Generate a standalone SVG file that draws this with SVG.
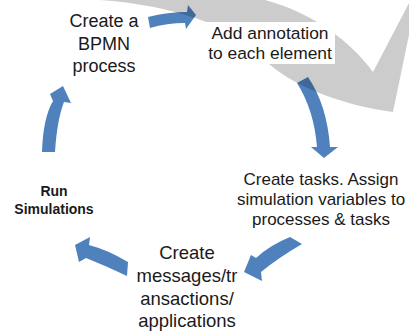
<svg xmlns="http://www.w3.org/2000/svg" width="409" height="333" viewBox="0 0 409 333">
<style>
.lbl{font-family:"Liberation Sans",Arial,sans-serif;fill:#1a1a1a;text-anchor:middle}
.arrow{fill:#4f81bd}
</style>
<rect width="409" height="333" fill="#ffffff"/>
<g id="connectors">
<path class="arrow" d="M148,17 Q168,12 187,12 L188,5 L196,15 L186,29 L185,23 Q167,23 150,28 Z"/>
<path class="arrow" d="M297,83 L308,77 Q327,105 330,147 L338,147 L324,158 L311,147 L317,147 Q314,110 297,83 Z"/>
<path class="arrow" d="M302,244 L290,237 Q270,245 256,258 L251,255 L244,272 L262,281 L261,272 Q278,258 302,244 Z"/>
<path class="arrow" d="M128,262 Q108,250 89,245 L90,237 L75,245 L79,262 L86,258 Q106,266 127,276 Z"/>
<path class="arrow" d="M42,152 Q43,118 53,101 L50,94 L63,86 L71,103 L64,102 Q57,120 55,152 Z"/>
</g>
<path id="band" d="M100,0 C170,5 235,25 265,60 C290,85 340,105 393,112 L409,35 L409,3 L373,72 C350,40 310,12 265,0 Z" fill="#000" fill-opacity="0.2"/>
<g id="n1">
<text class="lbl" x="104" y="27" font-size="18">Create a</text>
<text class="lbl" x="104" y="50" font-size="18">BPMN</text>
<text class="lbl" x="104" y="72" font-size="18">process</text>
</g>
<g id="n2">
<rect x="205" y="22" width="130" height="42" fill="#ffffff"/>
<text class="lbl" x="270" y="39" font-size="17.4">Add annotation</text>
<text class="lbl" x="270" y="59" font-size="17.4">to each element</text>
</g>
<g id="n3">
<text class="lbl" x="321" y="185" font-size="17">Create tasks. Assign</text>
<text class="lbl" x="321" y="205" font-size="17">simulation variables to</text>
<text class="lbl" x="321" y="225" font-size="17">processes &amp; tasks</text>
</g>
<g id="n4">
<text class="lbl" x="187" y="259" font-size="18.5">Create</text>
<text class="lbl" x="187" y="282" font-size="18.5">messages/tr</text>
<text class="lbl" x="187" y="305" font-size="18.5">ansactions/</text>
<text class="lbl" x="187" y="327" font-size="18.5">applications</text>
</g>
<g id="n5">
<text class="lbl" x="54" y="196" font-size="14" font-weight="bold">Run</text>
<text class="lbl" x="54" y="214" font-size="14" font-weight="bold">Simulations</text>
</g>
</svg>
